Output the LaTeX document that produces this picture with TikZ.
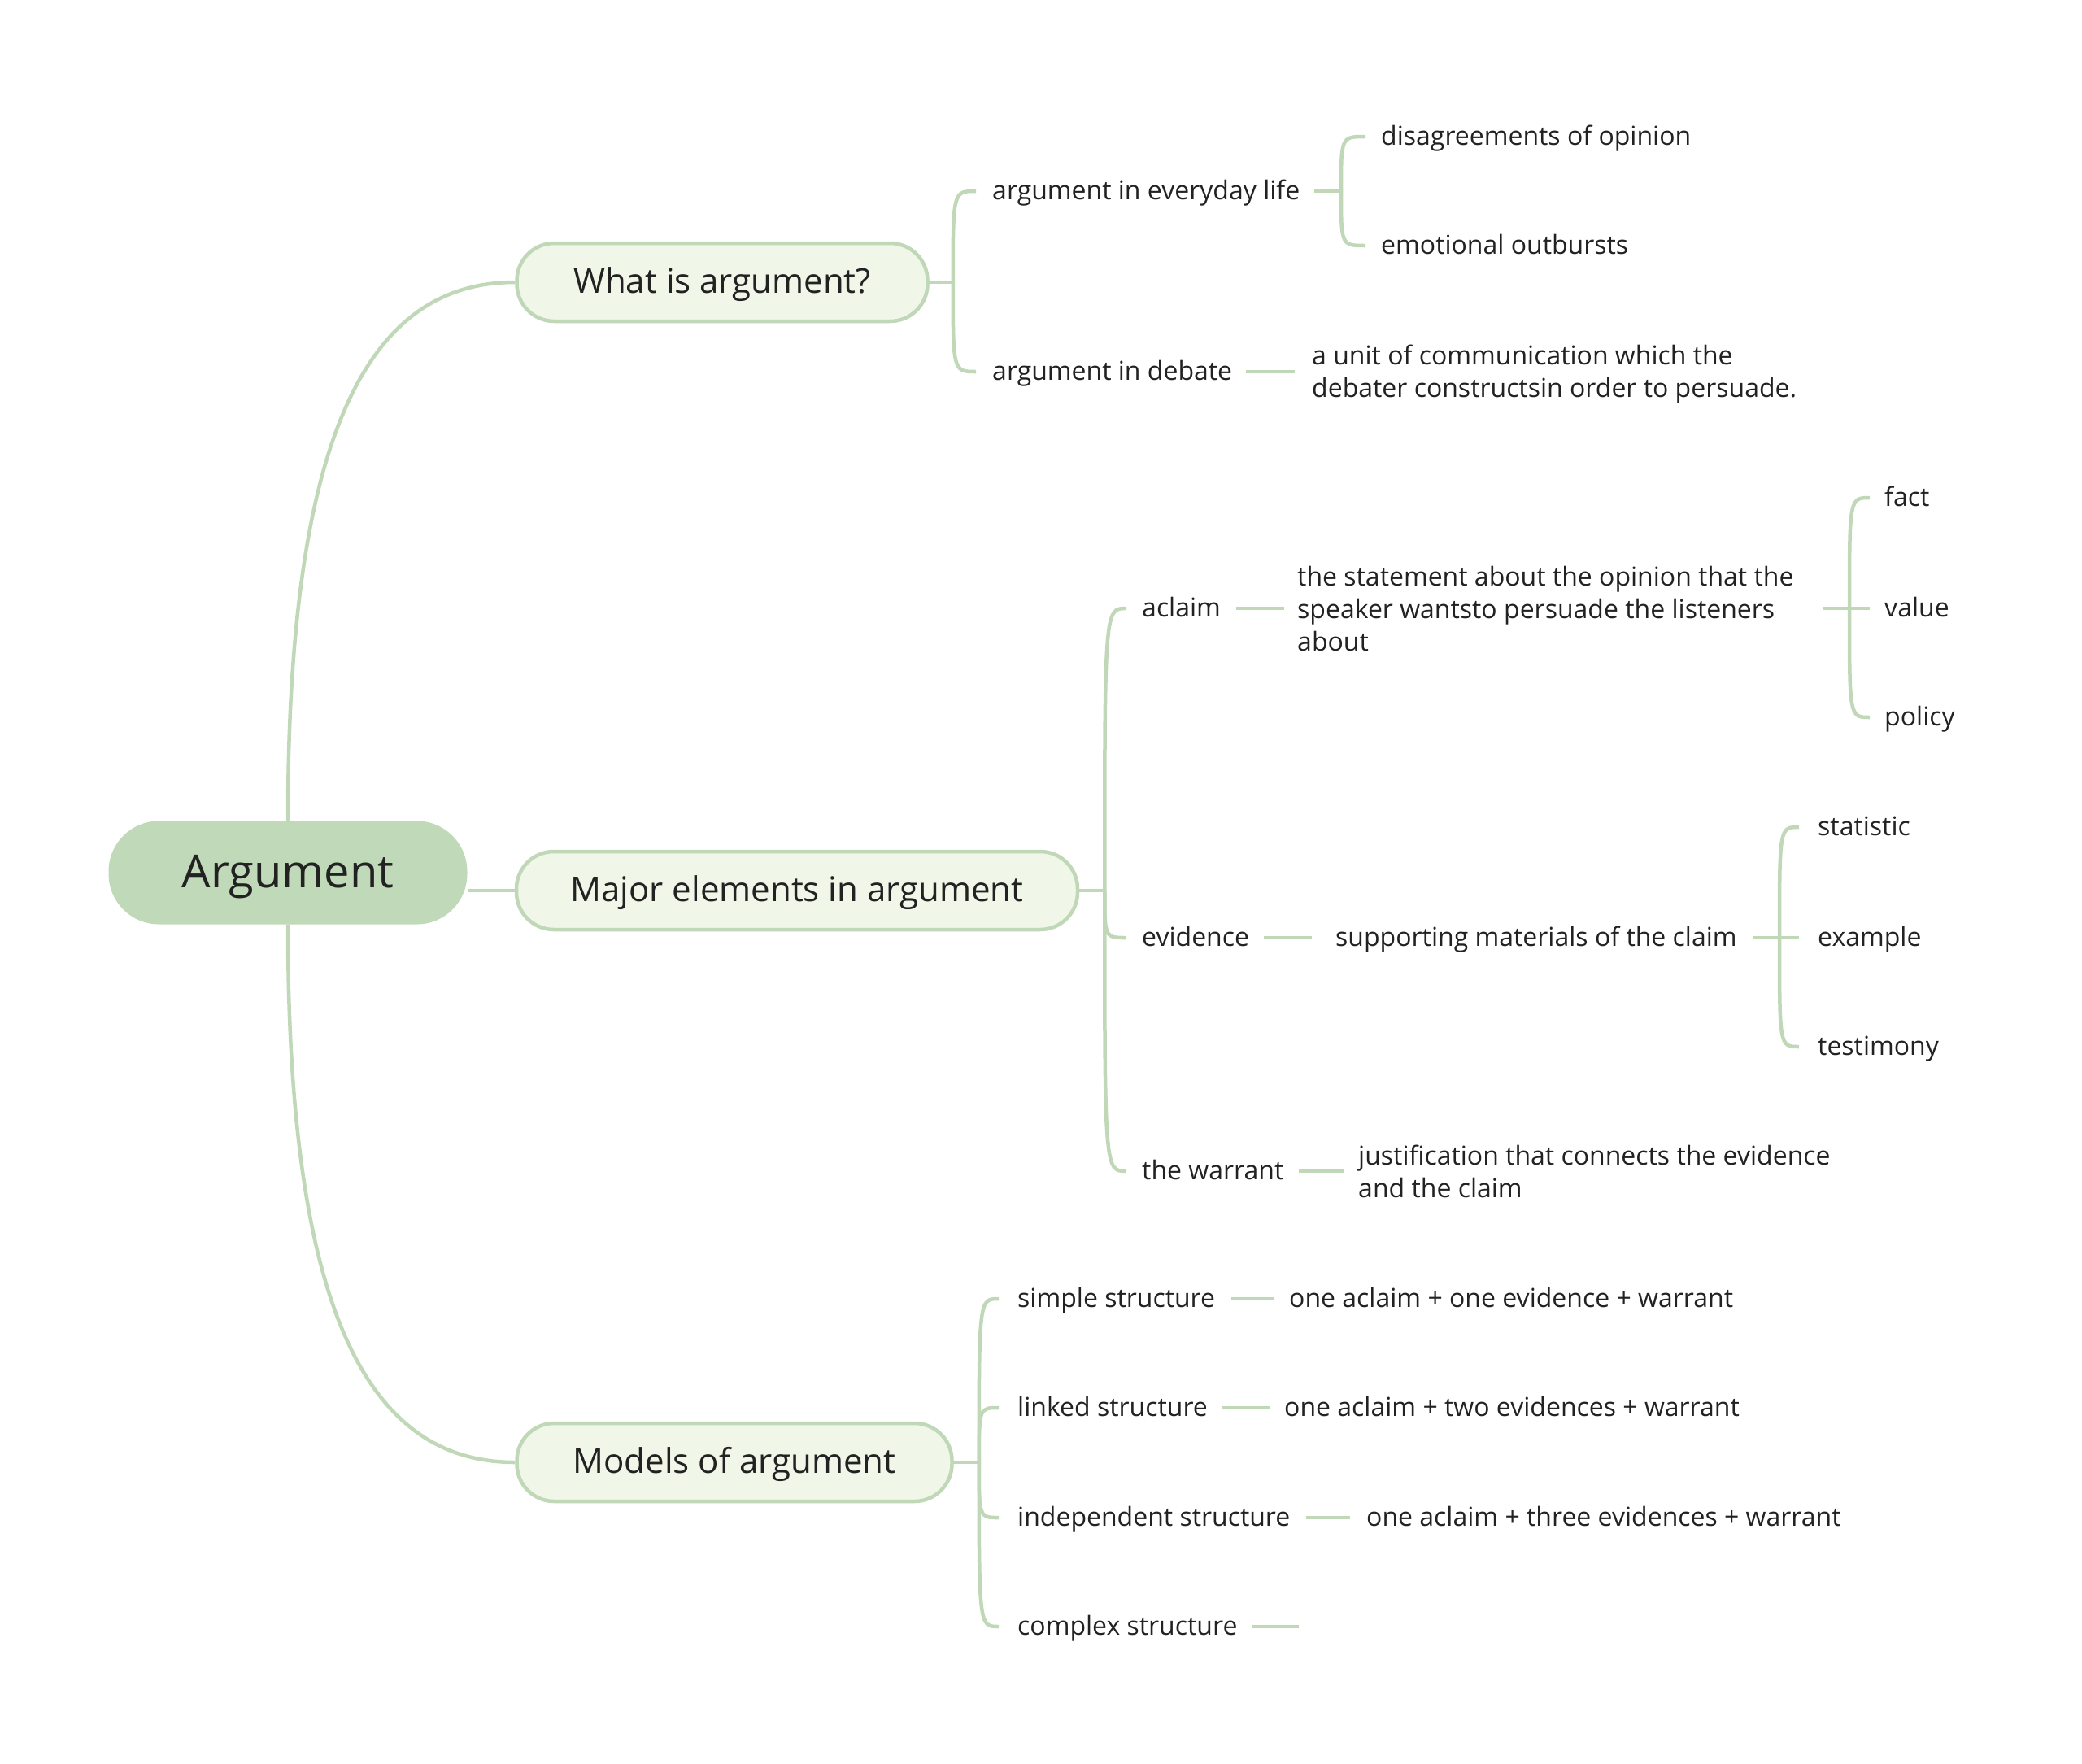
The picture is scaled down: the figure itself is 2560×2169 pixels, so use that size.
\documentclass[tikz,border=0pt]{standalone}
\usepackage{fontspec}
\setmainfont{Open Sans}
\usetikzlibrary{backgrounds}
\definecolor{lineC}{RGB}{192,216,184}
\definecolor{rootC}{RGB}{192,217,185}
\definecolor{subC}{RGB}{240,246,232}
\definecolor{txtC}{RGB}{34,34,34}
\begin{document}
\begin{tikzpicture}[x=1pt,y=-1pt,
  conn/.style={draw=lineC, line width=4.5pt},
  rootbox/.style={fill=rootC, rounded corners=62pt, minimum width=441pt, minimum height=127pt,
    inner sep=0pt, text height=45pt, text depth=8.5pt, text=txtC, font=\fontsize{56}{66}\selectfont},
  mainbox/.style={draw=lineC, line width=4.5pt, fill=subC, rounded corners=46pt, minimum height=96pt,
    inner sep=0pt, text height=32pt, text depth=5pt, text=txtC, font=\fontsize{42}{50}\selectfont},
  leafml/.style={anchor=west, inner sep=0pt, text=txtC, align=left, font=\fontsize{32}{40}\selectfont},
  leaf/.style={leafml, text height=30pt, text depth=9pt},
]
\useasboundingbox (0,0) rectangle (2560,2169);

% root and main topics
\node[rootbox] (root) at (354,1073) {Argument};
\node[mainbox, minimum width=505pt] (W) at (888,347) {What is argument?};
\node[mainbox, minimum width=690pt] (M) at (980,1095) {Major elements in argument};
\node[mainbox, minimum width=535pt] (Mo) at (903,1798) {Models of argument};

% What is argument?
\node[leaf] (ev) at (1220,235) {argument in everyday life};
\node[leaf] (dis) at (1698,168) {disagreements of opinion};
\node[leaf] (emo) at (1698,302) {emotional outbursts};
\node[leaf] (deb) at (1220,457) {argument in debate};
\node[leafml] (unit) at (1613,460) {a unit of communication which the\\debater constructsin order to persuade.};

% Major elements
\node[leaf] (acl) at (1404,748) {aclaim};
\node[leafml] (stmt) at (1595,748) {the statement about the opinion that the\\speaker wantsto persuade the listeners\\about};
\node[leaf] (fact) at (2317,612) {fact};
\node[leaf] (value) at (2317,748) {value};
\node[leaf] (policy) at (2317,882) {policy};
\node[leaf] (evi) at (1404,1153) {evidence};
\node[leaf] (sup) at (1642,1153) {supporting materials of the claim};
\node[leaf] (stat) at (2235,1017) {statistic};
\node[leaf] (exa) at (2235,1153) {example};
\node[leaf] (tes) at (2235,1287) {testimony};
\node[leaf] (war) at (1404,1440) {the warrant};
\node[leafml] (jus) at (1670,1440) {justification that connects the evidence\\and the claim};

% Models
\node[leaf] (sim) at (1251,1597) {simple structure};
\node[leaf] (simt) at (1585,1597) {one aclaim + one evidence + warrant};
\node[leaf] (lin) at (1251,1731) {linked structure};
\node[leaf] (lint) at (1579,1731) {one aclaim + two evidences + warrant};
\node[leaf] (ind) at (1251,1866) {independent structure};
\node[leaf] (indt) at (1680,1866) {one aclaim + three evidences + warrant};
\node[leaf] (com) at (1251,2000) {complex structure};
\coordinate (comEnd) at ([xshift=75pt]com.east);

% junction points
\coordinate (jW) at ([xshift=29pt]W.east);
\coordinate (jM) at ([xshift=31pt]M.east);
\coordinate (jMo) at ([xshift=31pt]Mo.east);
\coordinate (jEv) at (1649,235);
\coordinate (jSt) at (2274,748);
\coordinate (jSu) at (2188,1153);

\begin{scope}[on background layer]
\fill[white] (0,0) rectangle (2560,2169);
% root connectors
\draw[conn] (root.north) .. controls +(0,-449) and +(-193,0) .. (W.west);
\draw[conn] (root.south) .. controls +(0,449) and +(-193,0) .. (Mo.west);
\draw[conn] (root.east |- M.west) -- (M.west);
% What is argument?
\draw[conn] (W.east) -- (jW);
\foreach \c in {ev,deb}
  \draw[conn] (jW) .. controls (jW |- \c.west) .. ([xshift=-20pt]\c.west);
\draw[conn] ([xshift=18pt]ev.east) -- (jEv);
\foreach \c in {dis,emo}
  \draw[conn] (jEv) .. controls (jEv |- \c.west) .. ([xshift=-19pt]\c.west);
\draw[conn] ([xshift=17pt]deb.east) -- ([xshift=-21pt]unit.west |- deb.east);
% Major elements
\draw[conn] (M.east) -- (jM);
\foreach \c in {acl,evi,war}
  \draw[conn] (jM) .. controls (jM |- \c.west) .. ([xshift=-19pt]\c.west);
\draw[conn] ([xshift=19pt]acl.east) -- ([xshift=-16pt]stmt.west);
\draw[conn] ([xshift=-32pt]jSt) -- (jSt);
\foreach \c in {fact,value,policy}
  \draw[conn] (jSt) .. controls (jSt |- \c.west) .. ([xshift=-18pt]\c.west);
\draw[conn] ([xshift=18pt]evi.east) -- ([xshift=-29pt]sup.west);
\draw[conn] ([xshift=19pt]sup.east) -- (jSu);
\foreach \c in {stat,exa,tes}
  \draw[conn] (jSu) .. controls (jSu |- \c.west) .. ([xshift=-23pt]\c.west);
\draw[conn] ([xshift=18pt]war.east) -- ([xshift=-18pt]jus.west);
% Models
\draw[conn] (Mo.east) -- (jMo);
\foreach \c in {sim,lin,ind,com}
  \draw[conn] (jMo) .. controls (jMo |- \c.west) .. ([xshift=-23pt]\c.west);
\draw[conn] ([xshift=20pt]sim.east) -- ([xshift=-18pt]simt.west);
\draw[conn] ([xshift=18pt]lin.east) -- ([xshift=-18pt]lint.west);
\draw[conn] ([xshift=19pt]ind.east) -- ([xshift=-20pt]indt.west);
\draw[conn] ([xshift=18pt]com.east) -- (comEnd);
\end{scope}
\end{tikzpicture}
\end{document}
